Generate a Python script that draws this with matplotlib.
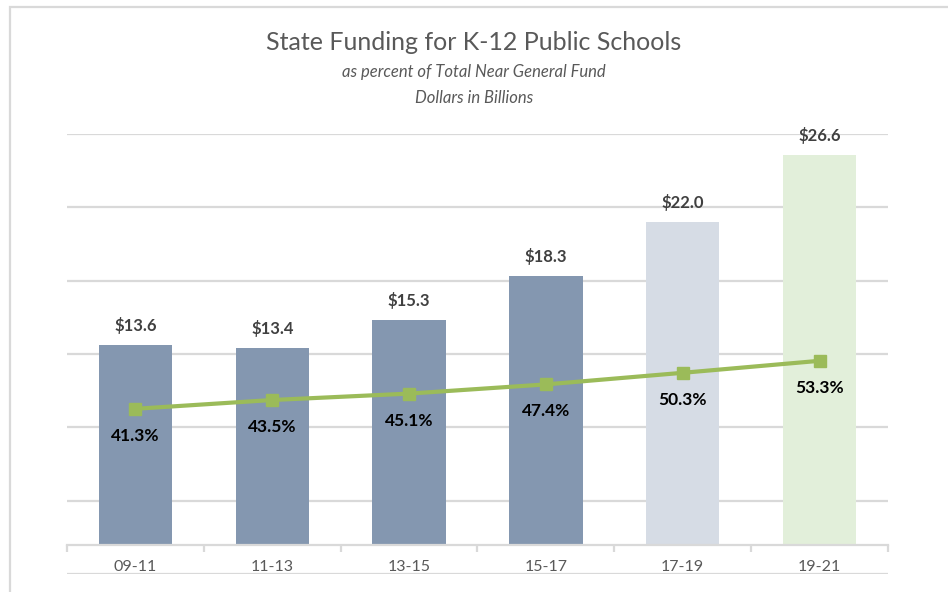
import matplotlib.pyplot as plt
from matplotlib.patches import Rectangle
import numpy as np

plt.rcParams['font.family'] = ['Lato', 'DejaVu Sans']

# data
periods = ['09-11', '11-13', '13-15', '15-17', '17-19', '19-21']
dollars = [13.6, 13.4, 15.3, 18.3, 22.0, 26.6]          # billions
pct_of_fund = [41.3, 43.5, 45.1, 47.4, 50.3, 53.3]     # percent
bar_colors = ['#8497B0', '#8497B0', '#8497B0', '#8497B0', '#D6DCE5', '#E2EFDA']

grid_col = '#d9d9d9'
line_col = '#9BBB59'

fig = plt.figure(figsize=(9.48, 5.92), dpi=100)
ax = fig.add_axes([67 / 948, 1 - 574 / 592, (888 - 67) / 948, (574 - 134) / 592])

x = np.arange(len(periods))
ax.bar(x, dollars, width=0.535, color=bar_colors, zorder=2)

# secondary axis for the percent line
ax2 = ax.twinx()
ax2.set_ylim(0, 110)
ax2.axis('off')

# primary axis: -2..28 with gridlines every 5, category axis crossing at 0
ax.set_xlim(-0.5, len(periods) - 0.5)
ax.set_ylim(-2, 28)
ax.set_yticks(np.arange(-2, 29, 5))
ax.yaxis.grid(True, color=grid_col, lw=1.6, zorder=0)
ax.tick_params(axis='y', left=False, right=False, labelleft=False, labelright=False)
for s in ['top', 'right', 'left']:
    ax.spines[s].set_visible(False)
ax.spines['bottom'].set_position(('data', 0))
ax.spines['bottom'].set_color(grid_col)
ax.spines['bottom'].set_linewidth(1.6)
ax.spines['bottom'].set_zorder(3)
ax.set_xticks(x)
ax.set_xticklabels(periods, fontsize=11.5, color='#595959')
ax.tick_params(axis='x', which='major', length=0, pad=11)
ax.set_xticks(np.arange(-0.5, len(periods), 1), minor=True)
ax.tick_params(axis='x', which='minor', length=5, width=1.6, color=grid_col, direction='out')

for xi, v in zip(x, dollars):
    ax.annotate(f'${v:.1f}', (xi, v), xytext=(0, 14), textcoords='offset points',
                ha='center', va='center', fontsize=12, fontweight='bold', color='#404040')

ax2.plot(x, pct_of_fund, color=line_col, lw=3, marker='s', markersize=9, zorder=4)
for xi, p in zip(x, pct_of_fund):
    ax2.annotate(f'{p:.1f}%', (xi, p), xytext=(0, -19.5), textcoords='offset points',
                 ha='center', va='center', fontsize=12.5, fontweight='bold', color='black')

# titles
fig.text(0.5, 1 - 42 / 592, 'State Funding for K-12 Public Schools', ha='center', va='center',
         fontsize=18, fontweight='normal', color='#595959')
fig.text(0.5, 1 - 72 / 592, 'as percent of Total Near General Fund', ha='center', va='center',
         fontsize=12, style='italic', color='#595959')
fig.text(0.5, 1 - 98 / 592, 'Dollars in Billions', ha='center', va='center',
         fontsize=12, style='italic', color='#595959')

# chart frame (cut off at right and bottom)
fig.add_artist(Rectangle((10 / 948, -0.1), 1.2, 1.1 - 7 / 592, transform=fig.transFigure,
                         fill=False, ec=grid_col, lw=1.6))

fig.savefig('out.png', dpi=100)
